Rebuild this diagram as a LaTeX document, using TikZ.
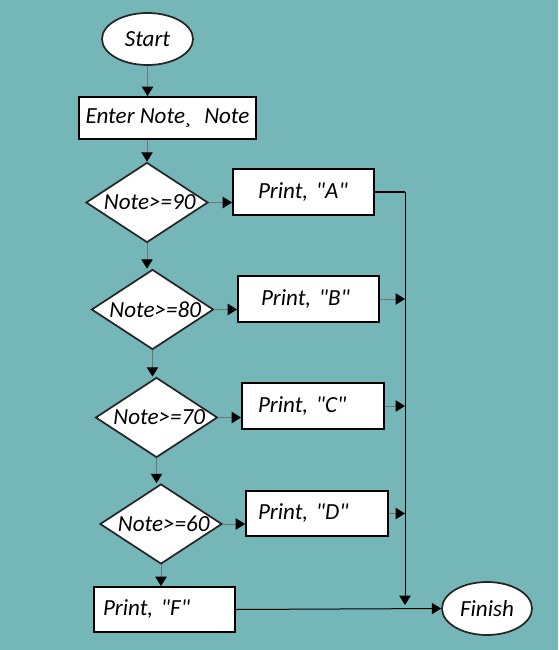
\documentclass[tikz,border=0pt]{standalone}
\usepackage{fontspec}
\setmainfont{Carlito}
\usetikzlibrary{shapes.geometric,arrows.meta}
\definecolor{bg}{HTML}{75B6B8}
\newcommand{\qq}{\textquotedbl}
\begin{document}
\begin{tikzpicture}[x=0.75pt,y=-0.75pt,
  font=\itshape\fontsize{17.3}{20}\selectfont,
  term/.style={ellipse,draw=black!85,line width=1.3pt,fill=white,inner sep=0pt},
  box/.style={rectangle,draw=black,line width=1.4pt,fill=white,align=left,inner ysep=0pt},
  dec/.style={diamond,draw=black!85,line width=1.3pt,fill=white,inner sep=0pt,
    minimum width=91.5pt,minimum height=60pt},
  tip/.style={-{Triangle[width=8.5pt,length=7pt,color=black]}},
  arr/.style={draw=black!55,line width=0.75pt,tip},
  busline/.style={draw=black,line width=0.75pt}]
\fill[bg] (0,0) rectangle (558,650);
\useasboundingbox (0,0) rectangle (558,650);

\node[term,minimum width=68.25pt,minimum height=39pt] (start) at (147.5,39) {Start};
\node[box,align=center,minimum width=132.75pt,minimum height=31.5pt] (enter) at (167.5,118) {Enter Note¸\hspace{0.3em} Note};

\node[dec,label={[xshift=2pt]center:Note>=90}] (d1) at (147,202.5) {};
\node[dec,label={[xshift=2pt]center:Note>=80}] (d2) at (152.5,309.5) {};
\node[dec,label={[xshift=2pt]center:Note>=70}] (d3) at (156.5,417.5) {};
\node[dec,label={[xshift=2pt]center:Note>=60}] (d4) at (161,524) {};

\node[box,minimum width=105.75pt,minimum height=34.5pt,text width=68.25pt,inner xsep=18.75pt] (pa) at (303.5,192) {Print, \qq A\qq};
\node[box,minimum width=105.75pt,minimum height=34.5pt,text width=71.25pt,inner xsep=17.25pt] (pb) at (308.5,299) {Print, \qq B\qq};
\node[box,minimum width=106.5pt,minimum height=34.5pt,text width=82.5pt,inner xsep=12pt] (pc) at (313,406) {Print, \qq C\qq};
\node[box,minimum width=106.5pt,minimum height=33.75pt,text width=88.5pt,inner xsep=9pt] (pd) at (317,513.5) {Print, \qq D\qq};
\node[box,minimum width=105.75pt,minimum height=33.75pt,text width=92.25pt,inner xsep=6.75pt] (pf) at (164.5,609.5) {Print, \qq F\qq};

\node[term,minimum width=67.5pt,minimum height=39.75pt] (finish) at (487,608.5) {Finish};

\coordinate (bustop) at (405,192);
\coordinate (busbot) at (405,605);

\draw[arr] (start.south) -- (start.south |- enter.north);
\draw[arr] (d1.north |- enter.south) -- (d1.north);
\draw[arr] (d1.south) -- (d1.south |- d2.north);
\draw[arr] (d2.south) -- (d2.south |- d3.north);
\draw[arr] (d3.south) -- (d3.south |- d4.north);
\draw[arr] (d4.south) -- (d4.south |- pf.north);

\draw[arr] (d1.east) -- (d1.east -| pa.west);
\draw[arr] (d2.east) -- (d2.east -| pb.west);
\draw[arr] (d3.east) -- (d3.east -| pc.west);
\draw[arr] (d4.east) -- (d4.east -| pd.west);

\draw[arr] (pb.east) -- (pb.east -| bustop);
\draw[arr] (pc.east) -- (pc.east -| bustop);
\draw[arr] (pd.east) -- (pd.east -| bustop);

\draw[busline,line width=1.3pt] (pa.east) -- (bustop);
\draw[busline,tip] (bustop) -- (busbot);
\draw[busline,tip] (pf.east) -- (finish.west);
\end{tikzpicture}
\end{document}
